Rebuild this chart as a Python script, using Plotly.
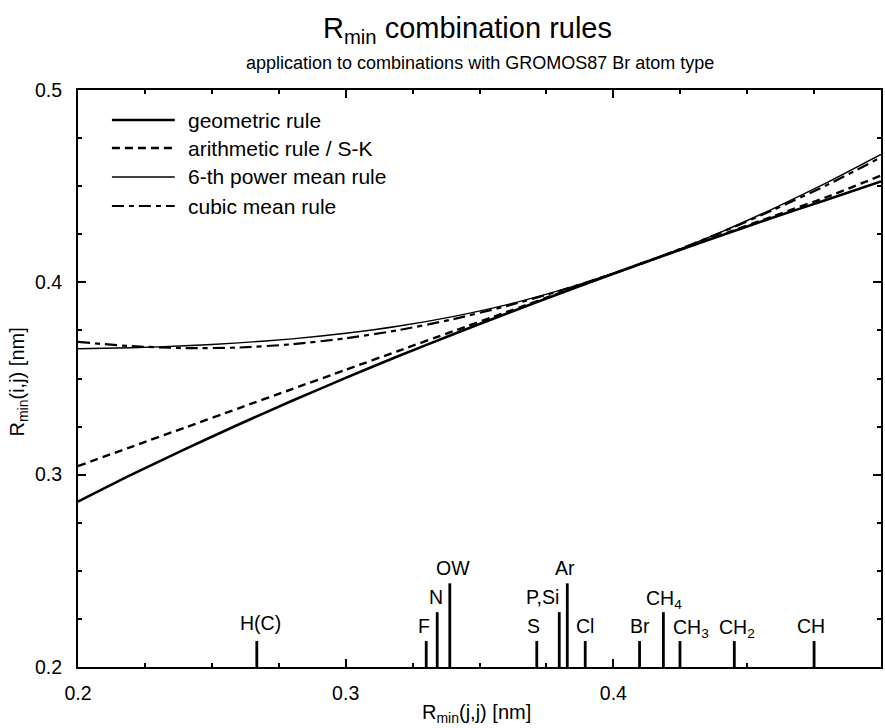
import plotly.graph_objects as go

# ---- data ----
r_jj = [0.20, 0.22, 0.24, 0.26, 0.28, 0.30, 0.32, 0.34, 0.36, 0.38,
        0.40, 0.42, 0.44, 0.46, 0.48, 0.50]
geometric = [0.2860, 0.3000, 0.3133, 0.3261, 0.3384, 0.3503, 0.3618, 0.3729,
             0.3837, 0.3942, 0.4045, 0.4145, 0.4242, 0.4338, 0.4431, 0.4525]
arithmetic = [0.3045, 0.3145, 0.3245, 0.3345, 0.3445, 0.3545, 0.3645, 0.3745,
              0.3845, 0.3945, 0.4045, 0.4145, 0.4245, 0.4345, 0.4445, 0.4555]
power6 = [0.3655, 0.3660, 0.3670, 0.3685, 0.3706, 0.3735, 0.3773, 0.3822,
          0.3883, 0.3958, 0.4046, 0.4147, 0.4260, 0.4385, 0.4520, 0.4665]
cubic = [0.3690, 0.3668, 0.3658, 0.3661, 0.3678, 0.3709, 0.3752, 0.3808,
         0.3876, 0.3956, 0.4046, 0.4147, 0.4258, 0.4378, 0.4507, 0.4650]

series_names = ["geometric rule", "arithmetic rule / S-K",
                "6-th power mean rule", "cubic mean rule"]

atom_names = ["H(C)", "F", "N", "OW", "S", "P,Si", "Ar", "Cl", "Br",
              "CH<sub>4</sub>", "CH<sub>3</sub>", "CH<sub>2</sub>", "CH"]
atom_x = [0.2668, 0.3301, 0.3342, 0.3389, 0.3714, 0.3798, 0.3828, 0.3895,
          0.4098, 0.4187, 0.4249, 0.4452, 0.4750]
atom_top = [0.2135, 0.2135, 0.2285, 0.2435, 0.2135, 0.2285, 0.2435, 0.2135,
            0.2135, 0.2285, 0.2135, 0.2135, 0.2135]

x_ticks = [0.2, 0.3, 0.4]
y_ticks = [0.2, 0.3, 0.4, 0.5]

# ---- styles ----
FONT = "Liberation Sans, Arial, Helvetica, sans-serif"
styles = [
    dict(width=2.6, dash="solid"),
    dict(width=2.4, dash="8px,5px"),
    dict(width=1.4, dash="solid"),
    dict(width=2.2, dash="12px,5px,5px,5px"),
]
label_xshift = [4, -2, -1, 3, -3, -17, -2, 0, 0, 1, 11, 3, -3]
label_yshift = [18, 15, 15, 15, 15, 15, 15, 15, 15, 13, 13, 13, 15]

fig = go.Figure()
series = [geometric, arithmetic, power6, cubic]
for name, ys, st in zip(series_names, series, styles):
    fig.add_trace(go.Scatter(
        x=r_jj, y=ys, mode="lines", name=name, showlegend=False,
        line=dict(color="black", width=st["width"], dash=st["dash"],
                  shape="spline", smoothing=0.6),
        hoverinfo="skip"))

# atom type markers (vertical bars from the x axis)
bx, by = [], []
for xv, top in zip(atom_x, atom_top):
    bx += [xv, xv, None]
    by += [0.2, top, None]
fig.add_trace(go.Scatter(x=bx, y=by, mode="lines", showlegend=False,
                         line=dict(color="black", width=2.8),
                         hoverinfo="skip"))

annotations = []
for name, xv, top, dx, dy in zip(atom_names, atom_x, atom_top,
                                 label_xshift, label_yshift):
    annotations.append(dict(
        x=xv, y=top, xref="x", yref="y", text=name, showarrow=False,
        xanchor="center", yanchor="middle", xshift=dx, yshift=dy,
        font=dict(family=FONT, size=19.5, color="black")))

# manual legend (top-left inside the plot)
leg_rows_px = [120, 148, 177, 206]
plot_top, plot_bottom, plot_left, plot_right = 90, 667, 78, 883
shapes = []
for name, st, py in zip(series_names, styles, leg_rows_px):
    yp = (plot_bottom - py) / (plot_bottom - plot_top)
    x0 = (112 - plot_left) / (plot_right - plot_left)
    x1 = (175 - plot_left) / (plot_right - plot_left)
    shapes.append(dict(type="line", xref="paper", yref="paper",
                       x0=x0, x1=x1, y0=yp, y1=yp,
                       line=dict(color="black", width=st["width"],
                                 dash=st["dash"])))
    annotations.append(dict(
        x=(186 - plot_left) / (plot_right - plot_left), y=yp,
        xref="paper", yref="paper", text=name, showarrow=False,
        xanchor="left", yanchor="middle",
        font=dict(family=FONT, size=21, color="black")))

# titles
annotations += [
    dict(x=0.5, y=1, xref="paper", yref="paper",
         text="R<sub>min</sub> combination rules", showarrow=False,
         xanchor="center", yanchor="middle", xshift=-12, yshift=60,
         font=dict(family=FONT, size=29, color="black")),
    dict(x=0.5, y=1, xref="paper", yref="paper",
         text="application to combinations with GROMOS87 Br atom type",
         showarrow=False, xanchor="center", yanchor="middle", yshift=27,
         font=dict(family=FONT, size=18, color="black")),
    dict(x=0.5, y=0, xref="paper", yref="paper",
         text="R<sub>min</sub>(j,j) [nm]", showarrow=False,
         xanchor="center", yanchor="middle", xshift=-3, yshift=-46,
         font=dict(family=FONT, size=20, color="black")),
    dict(x=0, y=0.5, xref="paper", yref="paper",
         text="R<sub>min</sub>(i,j) [nm]", showarrow=False, textangle=-90,
         xanchor="center", yanchor="middle", xshift=-60, yshift=-4,
         font=dict(family=FONT, size=20, color="black")),
]

axis_common = dict(
    showline=True, linecolor="black", linewidth=2, mirror="allticks",
    ticks="inside", ticklen=8, tickwidth=1.5, tickcolor="black",
    showgrid=False, zeroline=False, tickformat=".1f",
    tickfont=dict(family=FONT, size=19.5, color="black"),
    minor=dict(ticks="inside", ticklen=4, tickwidth=1.5, tickcolor="black",
               tickmode="linear", tick0=0.2, dtick=0.025, showgrid=False),
)

fig.update_layout(
    width=885, height=728,
    margin=dict(l=plot_left, r=885 - plot_right, t=plot_top,
                b=728 - plot_bottom),
    paper_bgcolor="white", plot_bgcolor="white",
    font=dict(family=FONT, color="black"),
    xaxis=dict(range=[0.2, 0.5], tickmode="array", tickvals=x_ticks,
               ticklabelstandoff=8, **axis_common),
    yaxis=dict(range=[0.2, 0.5], tickmode="array", tickvals=y_ticks,
               ticklabelstandoff=10, **axis_common),
    annotations=annotations, shapes=shapes,
    showlegend=False,
)

fig.write_html("out.html")
